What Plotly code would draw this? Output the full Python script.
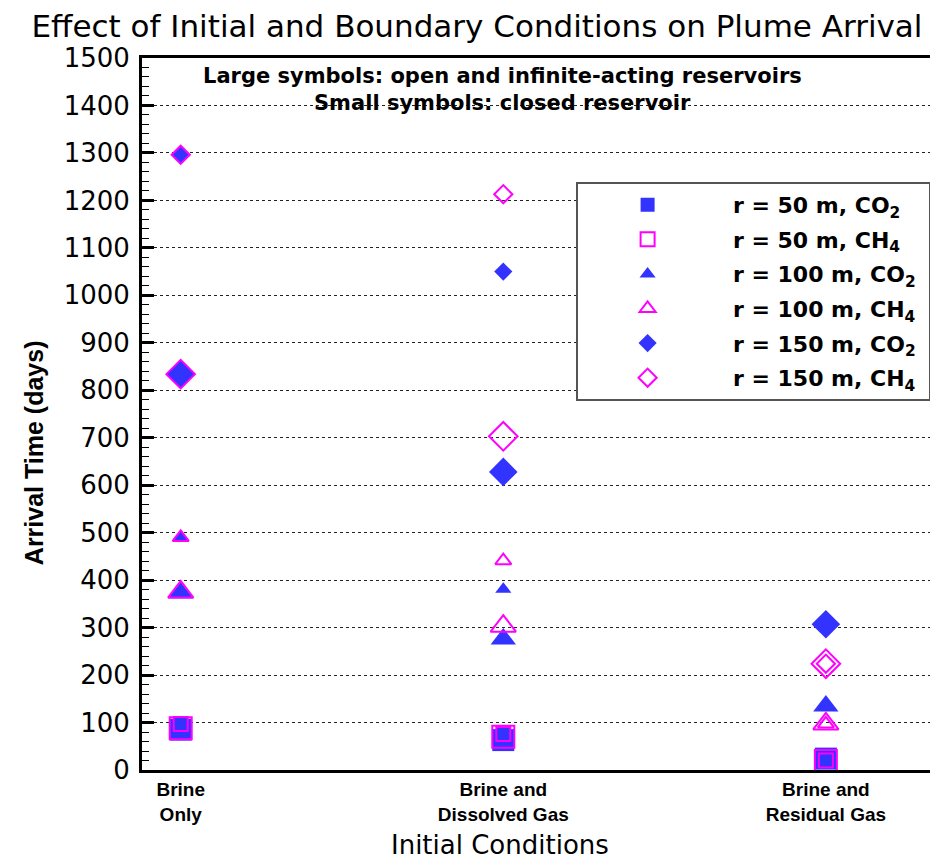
import plotly.graph_objects as go

# categories along the x axis
conditions = [1, 2, 3]
condition_labels = ["Brine<br>Only", "Brine and<br>Dissolved Gas", "Brine and<br>Residual Gas"]

# large symbols: open and infinite-acting reservoirs (days)
open_50_co2 = [85, 63, 24]
open_50_ch4 = [88, 70, 19]
open_100_co2 = [373, 276, 135]
open_100_ch4 = [375, 303, 97]
open_150_co2 = [834, 628, 307]
open_150_ch4 = [834, 703, 224]

# small symbols: closed reservoir (days)
closed_50_co2 = [97, 76, 22]
closed_50_ch4 = [97, 76, 20]
closed_100_co2 = [490, 381, 135]
closed_100_ch4 = [490, 441, 97]
closed_150_co2 = [1296, 1050, 307]
closed_150_ch4 = [1296, 1213, 224]

BLUE = "#3333FF"
MAGENTA = "#FF00FF"
FONT = "Liberation Sans, Arial, sans-serif"
WIDE = "DejaVu Sans, sans-serif"

series = [
    ("r = 50 m, CO<sub>2</sub>", "square", True, open_50_co2, closed_50_co2),
    ("r = 50 m, CH<sub>4</sub>", "square-open", False, open_50_ch4, closed_50_ch4),
    ("r = 100 m, CO<sub>2</sub>", "triangle-up", True, open_100_co2, closed_100_co2),
    ("r = 100 m, CH<sub>4</sub>", "triangle-up-open", False, open_100_ch4, closed_100_ch4),
    ("r = 150 m, CO<sub>2</sub>", "diamond", True, open_150_co2, closed_150_co2),
    ("r = 150 m, CH<sub>4</sub>", "diamond-open", False, open_150_ch4, closed_150_ch4),
]


def _marker(symbol, filled, size):
    if filled:
        return dict(symbol=symbol, size=size, color=BLUE, line=dict(width=0))
    return dict(symbol=symbol, size=size, color=MAGENTA, line=dict(width=2, color=MAGENTA))


fig = go.Figure()

# large symbols first (no legend entries)
for i, (name, symbol, filled, open_vals, closed_vals) in enumerate(series):
    fig.add_trace(go.Scatter(x=conditions, y=open_vals, mode="markers",
                             marker=_marker(symbol, filled, 22),
                             name=name, legendgroup=f"s{i}", showlegend=False))

# small symbols on top, these carry the legend
for i, (name, symbol, filled, open_vals, closed_vals) in enumerate(series):
    fig.add_trace(go.Scatter(x=conditions, y=closed_vals, mode="markers",
                             marker=_marker(symbol, filled, 14),
                             name="&nbsp;&nbsp;" + name + "&nbsp;", legendgroup=f"s{i}"))

fig.update_layout(
    width=938, height=861,
    paper_bgcolor="white", plot_bgcolor="white",
    font=dict(family=FONT, color="black"),
    margin=dict(l=134, r=1, t=50, b=99),
    title=dict(text="Effect of Initial and Boundary Conditions on Plume Arrival",
               x=0.5, xanchor="center", y=0.992, yanchor="top",
               font=dict(size=31, family=WIDE)),
    legend=dict(x=0.542, y=0.826, xanchor="left", yanchor="top",
                bgcolor="white", bordercolor="#555555", borderwidth=2,
                font=dict(size=22, family=WIDE, weight="bold"),
                itemwidth=130, tracegroupgap=3),
    showlegend=True,
)

fig.update_xaxes(
    range=[0.88, 3.36], tickmode="array", tickvals=conditions, ticktext=condition_labels,
    tickfont=dict(size=19, weight="bold"), ticks="",
    showgrid=False, zeroline=False,
    showline=True, linewidth=3, linecolor="black", mirror=True,
)

fig.update_yaxes(
    range=[0, 1500], dtick=100, tickfont=dict(size=26, family=WIDE), ticklabelstandoff=4,
    ticks="inside", ticklen=12, tickwidth=3, tickcolor="black",
    minor=dict(dtick=20, ticks="inside", ticklen=7, tickwidth=1, tickcolor="black", showgrid=False),
    showgrid=True, gridcolor="#222222", gridwidth=1, griddash="dot",
    zeroline=False,
    showline=True, linewidth=3, linecolor="black", mirror="ticks",
)

# axis titles placed as in the reference (y title sits below the plot centre)
fig.add_annotation(x=0, y=0.445, xref="paper", yref="paper", xshift=-108,
                   showarrow=False, textangle=-90, xanchor="center", yanchor="middle",
                   text="Arrival Time (days)", font=dict(size=25, weight="bold"))
fig.add_annotation(x=0.447, y=0, xref="paper", yref="paper", yshift=-92,
                   showarrow=False, xanchor="center", yanchor="bottom",
                   text="Initial Conditions", font=dict(size=26, family=WIDE))

fig.add_annotation(x=0.45, y=0.975, xref="paper", yref="paper", showarrow=False,
                   text="Large symbols: open and infinite-acting reservoirs",
                   font=dict(size=21, family=WIDE, weight="bold"), yanchor="middle")
fig.add_annotation(x=0.45, y=0.937, xref="paper", yref="paper", showarrow=False,
                   text="Small symbols: closed reservoir",
                   font=dict(size=21, family=WIDE, weight="bold"), yanchor="middle")

fig.write_html("out.html")
